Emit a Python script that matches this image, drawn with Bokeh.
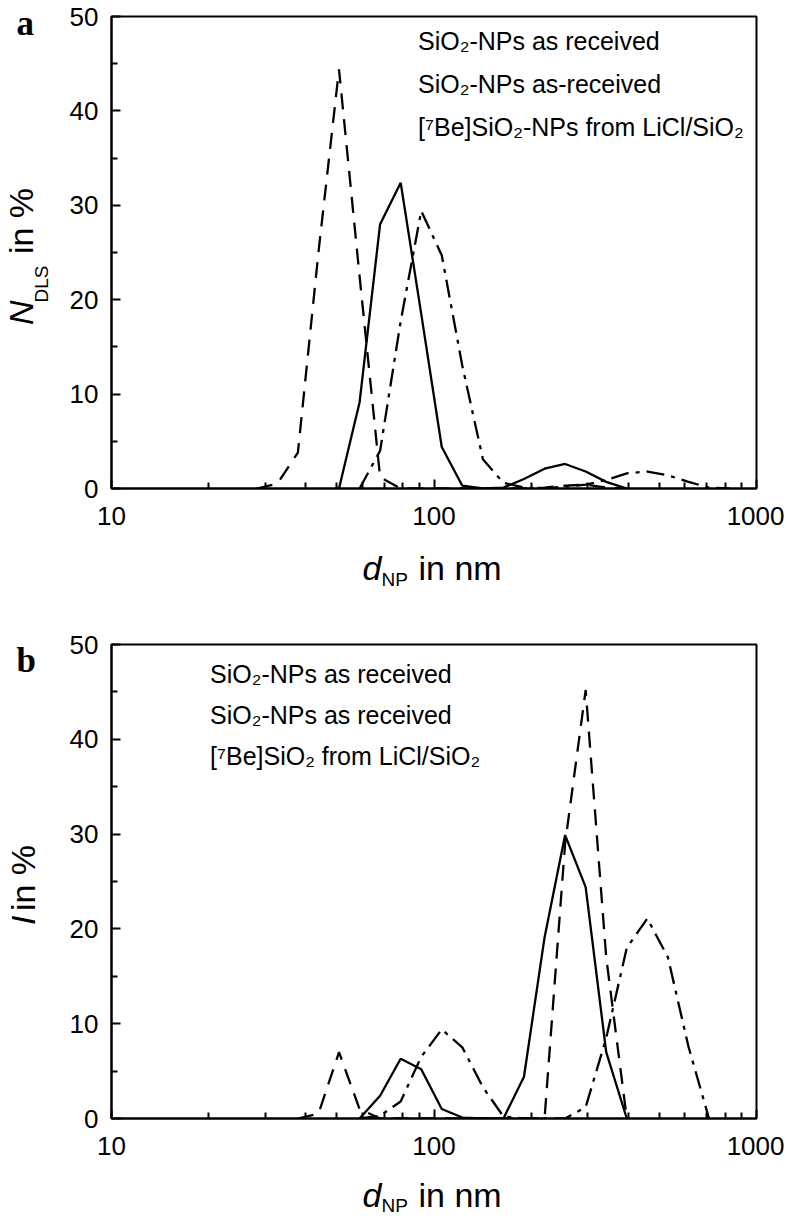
import math
from bokeh.plotting import figure
from bokeh.models import Legend, LegendItem, Label, FixedTicker, Range1d
from bokeh.layouts import column, row
from bokeh.embed import file_html
from bokeh.resources import INLINE

# ---------------- data ----------------
# panel a: number distribution N_DLS (%)
a_dash_d = [28.21, 32.67, 37.84, 43.82, 50.75, 58.77, 68.06, 78.82, 190.1, 220.2, 255.0, 295.3, 342.0, 396.1]
a_dash_v = [0.0, 0.5, 3.8, 25.0, 44.4, 22.5, 1.2, 0.0, 0.0, 0.1, 0.3, 0.4, 0.1, 0.0]

a_dot_d = [58.77, 68.06, 78.82, 91.28, 105.7, 122.4, 141.8, 164.2, 190.1, 220.2, 255.0, 295.3, 342.0, 396.1, 458.7, 531.2, 615.1, 712.4, 825.0]
a_dot_v = [0.0, 4.0, 17.7, 29.4, 24.7, 13.0, 3.1, 0.6, 0.1, 0.0, 0.2, 0.4, 0.9, 1.6, 1.8, 1.4, 0.7, 0.1, 0.0]

a_sol_d = [50.75, 58.77, 68.06, 78.82, 91.28, 105.7, 122.4, 141.8, 164.2, 190.1, 220.2, 255.0, 295.3, 342.0, 396.1]
a_sol_v = [0.0, 9.1, 28.0, 32.4, 18.5, 4.4, 0.3, 0.0, 0.1, 1.0, 2.1, 2.6, 1.8, 0.7, 0.0]

# panel b: intensity distribution I (%)
b_dash_d = [37.84, 43.82, 50.75, 58.77, 68.06, 190.1, 220.2, 255.0, 295.3, 342.0, 396.1]
b_dash_v = [0.0, 0.5, 7.0, 1.0, 0.0, 0.0, 0.0, 29.0, 45.2, 17.0, 0.0]

b_dot_d = [58.77, 68.06, 78.82, 91.28, 105.7, 122.4, 141.8, 164.2, 190.1, 220.2, 255.0, 295.3, 342.0, 396.1, 458.7, 531.2, 615.1, 712.4]
b_dot_v = [0.0, 0.3, 1.8, 6.5, 9.4, 7.5, 3.3, 0.2, 0.0, 0.0, 0.0, 1.2, 8.5, 18.0, 21.1, 17.0, 7.6, 0.0]

b_sol_d = [58.77, 68.06, 78.82, 91.28, 105.7, 122.4, 141.8, 164.2, 190.1, 220.2, 255.0, 295.3, 342.0, 396.1]
b_sol_v = [0.0, 2.4, 6.3, 5.2, 1.0, 0.1, 0.0, 0.0, 4.4, 19.1, 29.9, 24.4, 7.0, 0.0]

a_labels = ["SiO\u2082-NPs as received", "SiO\u2082-NPs as-received", "[\u2077Be]SiO\u2082-NPs from LiCl/SiO\u2082"]
b_labels = ["SiO\u2082-NPs as received", "SiO\u2082-NPs as received", "[\u2077Be]SiO\u2082 from LiCl/SiO\u2082"]

x_major = [10, 100, 1000]
x_major_labels = ["10", "100", "1000"]
x_minor = [20, 30, 40, 50, 60, 70, 80, 90, 200, 300, 400, 500, 600, 700, 800, 900]
y_major = [0, 10, 20, 30, 40, 50]
y_minor = [5, 15, 25, 35, 45]

FONT = "Liberation Sans"
DASH = "16 10"
DASHDOT = "18 7 4 7"
LEG_DASH = "11 8"
LEG_DASHDOT = "13 6 3 6"
LW = 2.3

STRIP_W = 60
MAIN_W = 724


def make_fig(height, top, bottom):
    p = figure(width=MAIN_W, height=height, x_axis_type="log",
               x_range=Range1d(10, 1000), y_range=Range1d(0, 50),
               output_backend="svg", toolbar_location=None, title=None,
               min_border_left=51, min_border_right=28,
               min_border_top=top, min_border_bottom=bottom)
    p.grid.visible = False
    p.outline_line_color = "black"
    p.outline_line_width = 2
    p.background_fill_color = "white"
    p.border_fill_color = "white"
    p.xaxis.ticker = FixedTicker(ticks=x_major, minor_ticks=x_minor)
    p.xaxis.major_label_overrides = dict(zip(x_major, x_major_labels))
    p.yaxis.ticker = FixedTicker(ticks=y_major, minor_ticks=y_minor)
    for ax in (p.xaxis[0], p.yaxis[0]):
        ax.axis_line_width = 2
        ax.axis_line_color = "black"
        ax.major_tick_in = 9
        ax.major_tick_out = 0
        ax.minor_tick_in = 6
        ax.minor_tick_out = 0
        ax.major_tick_line_width = 2
        ax.minor_tick_line_width = 2
        ax.major_label_text_font = FONT
        ax.major_label_text_font_size = "26px"
        ax.major_label_text_color = "black"
    p.xaxis.major_label_standoff = 18
    p.yaxis.major_label_standoff = 13
    return p


def make_strip(width, height):
    s = figure(width=width, height=height, x_range=Range1d(0, width),
               y_range=Range1d(0, height), x_axis_location=None,
               y_axis_location=None, output_backend="svg", title=None,
               toolbar_location=None, min_border=0)
    s.grid.visible = False
    s.outline_line_color = None
    s.background_fill_color = "white"
    s.border_fill_color = "white"
    return s


def add_series(p, d, v, dash):
    p.line(d, v, line_color="black", line_width=LW, line_dash=dash)


def add_legend(p, labels, loc, glyph_w, standoff, row_h):
    items = []
    for lab, dash in zip(labels, [LEG_DASH, LEG_DASHDOT, "solid"]):
        r = p.line(x=[], y=[], line_color="black", line_width=2, line_dash=dash)
        items.append(LegendItem(label=lab, renderers=[r]))
    leg = Legend(items=items, location=loc, glyph_width=glyph_w, glyph_height=row_h,
                 label_height=row_h, label_standoff=standoff, spacing=3, padding=0,
                 margin=0, border_line_alpha=0, background_fill_alpha=0,
                 label_text_font=FONT, label_text_font_size="25px",
                 label_text_color="black")
    p.add_layout(leg)


def txt(s, text, x, y, size, style="normal", font=FONT):
    s.add_layout(Label(x=x, y=y, text=text, text_font=font, text_font_size=size,
                       text_font_style=style, text_color="black",
                       text_align="left", text_baseline="alphabetic"))


def vtxt(s, text, x, y, size, style="normal"):
    # rotated text, positioned by its centre
    s.add_layout(Label(x=x, y=y, text=text, text_font=FONT, text_font_size=size,
                       text_font_style=style, text_color="black", angle=math.pi / 2,
                       text_align="center", text_baseline="middle"))


# ---------------- panel a ----------------
pa = make_fig(540, 16, 52)
add_series(pa, a_dash_d, a_dash_v, DASH)
add_series(pa, a_dot_d, a_dot_v, DASHDOT)
add_series(pa, a_sol_d, a_sol_v, "solid")
add_legend(pa, a_labels, (242, 341), 60, 5, 40)

sa = make_strip(STRIP_W, 540)
txt(sa, "a", 16, 532, "35px", "bold", "Liberation Serif")
vtxt(sa, "N", 20, 201, "34px", "italic")
vtxt(sa, "DLS", 41, 234, "19px")
vtxt(sa, "in %", 20, 306, "34px")

xa = make_strip(STRIP_W + MAIN_W, 80)
txt(xa, "d", 362, 53, "34px", "italic")
txt(xa, "NP", 381, 41, "19px")
txt(xa, "in nm", 418, 53, "34px")

# ---------------- panel b ----------------
pb = make_fig(550, 24, 52)
add_series(pb, b_dash_d, b_dash_v, DASH)
add_series(pb, b_dot_d, b_dot_v, DASHDOT)
add_series(pb, b_sol_d, b_sol_v, "solid")
add_legend(pb, b_labels, (33, 343), 59, 7, 38)

sb = make_strip(STRIP_W, 550)
txt(sb, "b", 16, 531, "35px", "bold", "Liberation Serif")
vtxt(sb, "I", 22, 230, "34px", "italic")
vtxt(sb, "in %", 22, 279, "34px")

xb = make_strip(STRIP_W + MAIN_W, 47)
txt(xb, "d", 362, 23, "34px", "italic")
txt(xb, "NP", 381, 12, "19px")
txt(xb, "in nm", 418, 23, "34px")

layout = column(row(sa, pa, spacing=0), xa, row(sb, pb, spacing=0), xb, spacing=0)
open("out.html", "w").write(file_html(layout, INLINE))
